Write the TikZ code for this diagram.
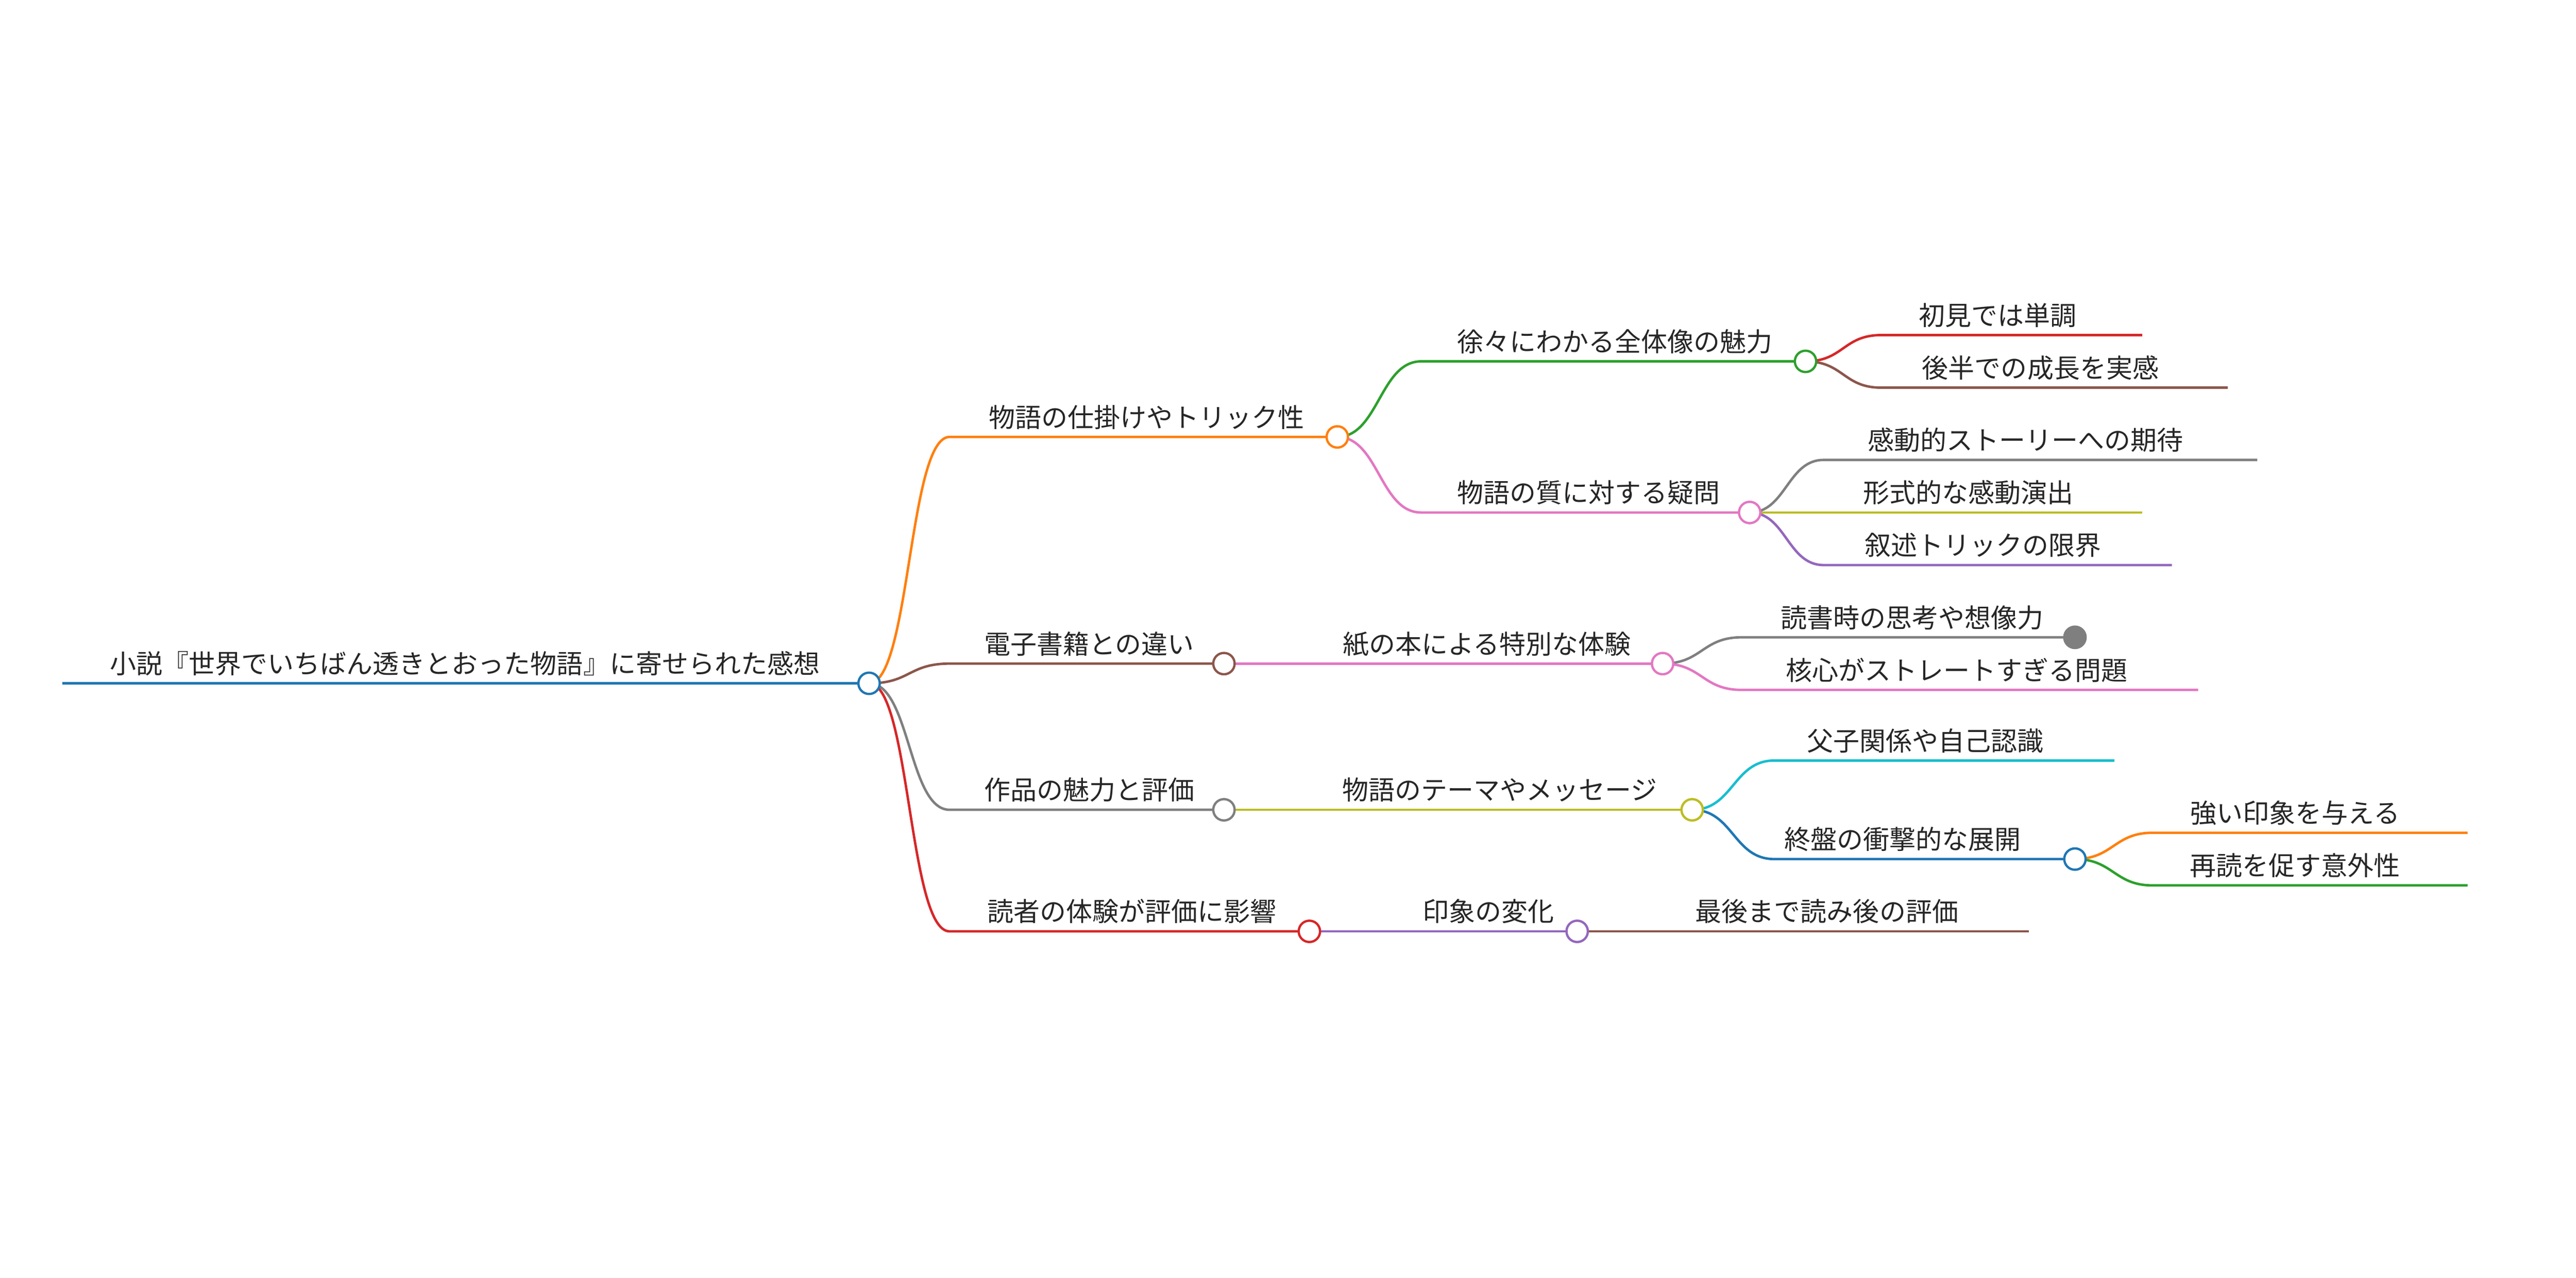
\documentclass[tikz,border=0pt]{standalone}
\usepackage{fontspec}
\setmainfont{Noto Sans CJK JP}
\usepackage{tikz}
\definecolor{cBlue}{HTML}{1F77B4}
\definecolor{cOrange}{HTML}{FF7F0E}
\definecolor{cGreen}{HTML}{2CA02C}
\definecolor{cRed}{HTML}{D62728}
\definecolor{cPurple}{HTML}{9467BD}
\definecolor{cBrown}{HTML}{8C564B}
\definecolor{cPink}{HTML}{E377C2}
\definecolor{cGray}{HTML}{7F7F7F}
\definecolor{cOlive}{HTML}{BCBD22}
\definecolor{cCyan}{HTML}{17BECF}

\begin{document}
\begin{tikzpicture}[x=1pt,y=-1pt,line width=1.5pt]
        \tikzstyle{mapdot}=[
            circle,
            draw,
            line width=1.4pt,
            fill=white,
            inner sep=0pt,
            minimum size=13pt
        ]
        \tikzstyle{maptext}=[
            anchor=base,
            font=\fontsize{16}{18}\selectfont,
            text=black!85,
            inner sep=0pt
        ]
        \useasboundingbox (0,0) rectangle (1568,778);

        % points
        \coordinate (root0) at (38,416);
        \coordinate (root) at (529,416);
        \coordinate (trick0) at (578,266);   \coordinate (trick) at (814,266);
        \coordinate (whole0) at (865,220);   \coordinate (whole) at (1099,220);
        \coordinate (dull0) at (1145,204);   \coordinate (dull) at (1304,204);
        \coordinate (grow0) at (1145,236);   \coordinate (grow) at (1356,236);
        \coordinate (doubt0) at (865,312);   \coordinate (doubt) at (1065,312);
        \coordinate (hope0) at (1110,280);   \coordinate (hope) at (1374,280);
        \coordinate (form0) at (1110,312);   \coordinate (form) at (1304,312);
        \coordinate (limit0) at (1110,344);  \coordinate (limit) at (1322,344);
        \coordinate (ebook0) at (578,404);   \coordinate (ebook) at (745,404);
        \coordinate (paper) at (1012,404);
        \coordinate (think0) at (1060,388);  \coordinate (think) at (1263,388);
        \coordinate (core0) at (1060,420);   \coordinate (core) at (1338,420);
        \coordinate (work0) at (578,493);    \coordinate (work) at (745,493);
        \coordinate (theme) at (1030,493);
        \coordinate (father0) at (1080,463); \coordinate (father) at (1287,463);
        \coordinate (end0) at (1080,523);    \coordinate (end) at (1263,523);
        \coordinate (strong0) at (1310,507); \coordinate (strong) at (1502,507);
        \coordinate (again0) at (1310,539);  \coordinate (again) at (1502,539);
        \coordinate (reader0) at (578,567);  \coordinate (reader) at (797,567);
        \coordinate (change) at (960,567);
        \coordinate (last) at (1235,567);

        % connectors
        \draw[cBlue] (root0) -- (root);
        \draw[cOrange] (root) .. controls +(25,0) and +(-25,0) .. (trick0) -- (trick);
        \draw[cGreen] (trick) .. controls +(25,0) and +(-25,0) .. (whole0) -- (whole);
        \draw[cRed] (whole) .. controls +(23,0) and +(-23,0) .. (dull0) -- (dull);
        \draw[cBrown] (whole) .. controls +(23,0) and +(-23,0) .. (grow0) -- (grow);
        \draw[cPink] (trick) .. controls +(25,0) and +(-25,0) .. (doubt0) -- (doubt);
        \draw[cGray] (doubt) .. controls +(22,0) and +(-22,0) .. (hope0) -- (hope);
        \draw[cOlive] (doubt) -- (form);
        \draw[cPurple] (doubt) .. controls +(22,0) and +(-22,0) .. (limit0) -- (limit);
        \draw[cBrown] (root) .. controls +(25,0) and +(-25,0) .. (ebook0) -- (ebook);
        \draw[cPink] (ebook) -- (paper);
        \draw[cGray] (paper) .. controls +(24,0) and +(-24,0) .. (think0) -- (think);
        \draw[cPink] (paper) .. controls +(24,0) and +(-24,0) .. (core0) -- (core);
        \draw[cGray] (root) .. controls +(25,0) and +(-25,0) .. (work0) -- (work);
        \draw[cOlive] (work) -- (theme);
        \draw[cCyan] (theme) .. controls +(25,0) and +(-25,0) .. (father0) -- (father);
        \draw[cBlue] (theme) .. controls +(25,0) and +(-25,0) .. (end0) -- (end);
        \draw[cOrange] (end) .. controls +(23,0) and +(-23,0) .. (strong0) -- (strong);
        \draw[cGreen] (end) .. controls +(23,0) and +(-23,0) .. (again0) -- (again);
        \draw[cRed] (root) .. controls +(25,0) and +(-25,0) .. (reader0) -- (reader);
        \draw[cPurple] (reader) -- (change);
        \draw[cBrown] (change) -- (last);

        % dots
        \node[mapdot, draw=cBlue] (rootDot) at (root){};
        \node[mapdot, draw=cOrange] (trickDot) at (trick){};
        \node[mapdot, draw=cGreen] (wholeDot) at (whole){};
        \node[mapdot, draw=cPink] (doubtDot) at (doubt){};
        \node[mapdot, draw=cBrown] (ebookDot) at (ebook){};
        \node[mapdot, draw=cPink] (paperDot) at (paper){};
        \node[mapdot, draw=cGray, fill=cGray] (thinkDot) at (think){};
        \node[mapdot, draw=cGray] (workDot) at (work){};
        \node[mapdot, draw=cOlive] (themeDot) at (theme){};
        \node[mapdot, draw=cBlue] (endDot) at (end){};
        \node[mapdot, draw=cRed] (readerDot) at (reader){};
        \node[mapdot, draw=cPurple] (changeDot) at (change){};

        % labels
        \node[maptext] (rootTxt) at (283,410) {小説『世界でいちばん透きとおった物語』に寄せられた感想};
        \node[maptext] (trickTxt) at (698,260) {物語の仕掛けやトリック性};
        \node[maptext] (wholeTxt) at (983,214) {徐々にわかる全体像の魅力};
        \node[maptext] (dullTxt) at (1216,198) {初見では単調};
        \node[maptext] (growTxt) at (1242,230) {後半での成長を実感};
        \node[maptext] (doubtTxt) at (967,306) {物語の質に対する疑問};
        \node[maptext] (hopeTxt) at (1233,274) {感動的ストーリーへの期待};
        \node[maptext] (formTxt) at (1198,306) {形式的な感動演出};
        \node[maptext] (limitTxt) at (1207,338) {叙述トリックの限界};
        \node[maptext] (ebookTxt) at (663,398) {電子書籍との違い};
        \node[maptext] (paperTxt) at (905,398) {紙の本による特別な体験};
        \node[maptext] (thinkTxt) at (1164,382) {読書時の思考や想像力};
        \node[maptext] (coreTxt) at (1191,414) {核心がストレートすぎる問題};
        \node[maptext] (workTxt) at (663,487) {作品の魅力と評価};
        \node[maptext] (themeTxt) at (913,487) {物語のテーマやメッセージ};
        \node[maptext] (fatherTxt) at (1172,457) {父子関係や自己認識};
        \node[maptext] (endTxt) at (1158,517) {終盤の衝撃的な展開};
        \node[maptext] (strongTxt) at (1397,501) {強い印象を与える};
        \node[maptext] (againTxt) at (1397,533) {再読を促す意外性};
        \node[maptext] (readerTxt) at (689,561) {読者の体験が評価に影響};
        \node[maptext] (changeTxt) at (906,561) {印象の変化};
        \node[maptext] (lastTxt) at (1112,561) {最後まで読み後の評価};
\end{tikzpicture}
\end{document}
